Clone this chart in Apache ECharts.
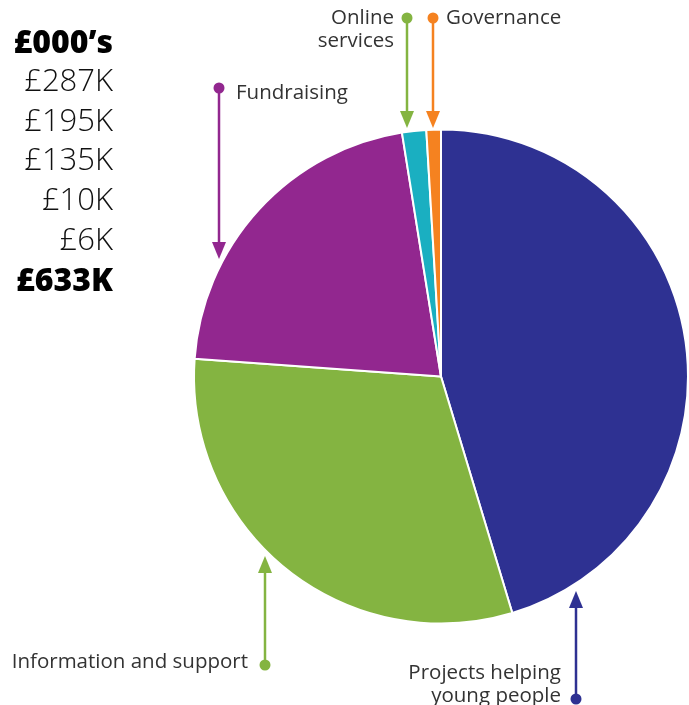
<!DOCTYPE html>
<html><head><meta charset="utf-8">
<script src="https://cdn.jsdelivr.net/npm/echarts@6/dist/echarts.min.js"></script>
<style>html,body{margin:0;padding:0;background:#fff}#c{width:689px;height:705px}</style>
</head><body><div id="c"></div>
<script>
const categories = ['Projects helping young people','Information and support','Fundraising','Online services','Governance'];
const values = [287, 195, 135, 10, 6];
const colors = ['#2e3192','#84b441','#92278f','#1aafc1','#f58220'];
const totalLabel = '£633K';
const headerLabel = '£000’s';

const chart = echarts.init(document.getElementById('c'));
const graphics = [];
graphics.push({type:'text', x:113, y:44, style:{text: headerLabel, font:'800 32px "Open Sans"', fill:'#000', textAlign:'right', textVerticalAlign:'middle'}});
values.forEach((v,i)=>{
  graphics.push({type:'text', x:113, y:82+i*39.8, style:{text:'£'+v+'K', font:'300 31px "Open Sans"', fill:'#111', textAlign:'right', textVerticalAlign:'middle'}});
});
graphics.push({type:'text', x:113, y:282, style:{text: totalLabel, font:'800 32px "Open Sans"', fill:'#000', textAlign:'right', textVerticalAlign:'middle'}});

function arrow(x, y0, y1, color){
  const dir = y1 > y0 ? 1 : -1;
  const headLen = 17, headW = 7;
  graphics.push({type:'line', shape:{x1:x, y1:y0, x2:x, y2:y1 - dir*headLen}, style:{stroke:color, lineWidth:2.5}});
  graphics.push({type:'circle', shape:{cx:x, cy:y0, r:5.5}, style:{fill:color}});
  graphics.push({type:'polygon', shape:{points:[[x-headW, y1-dir*headLen],[x+headW, y1-dir*headLen],[x, y1]]}, style:{fill:color}});
}
function label(x, y, text, align){
  graphics.push({type:'text', x:x, y:y, style:{text:text, font:'20.5px "Open Sans"', fill:'#333', textAlign:align, textVerticalAlign:'middle', lineHeight:23}});
}
arrow(219, 88, 259, colors[2]);
label(236, 93, categories[2], 'left');
arrow(407, 18, 128, colors[1]);
label(394, 30, 'Online\nservices', 'right');
arrow(433, 18, 128, colors[4]);
label(446, 18, categories[4], 'left');
arrow(265, 665, 556, colors[1]);
label(248, 662, categories[1], 'right');
arrow(576, 699, 591, colors[0]);
label(561, 685, 'Projects helping\nyoung people', 'right');

chart.setOption({
  animation:false,
  series:[{
    type:'pie',
    center:[441, 376.5],
    radius:[0, 247],
    startAngle:90,
    clockwise:true,
    label:{show:false},
    labelLine:{show:false},
    itemStyle:{borderColor:'#fff', borderWidth:2},
    emphasis:{disabled:true},
    data: categories.map((c,i)=>({name:c, value:values[i], itemStyle:{color:colors[i]}}))
  }],
  graphic: graphics
});
</script></body></html>
